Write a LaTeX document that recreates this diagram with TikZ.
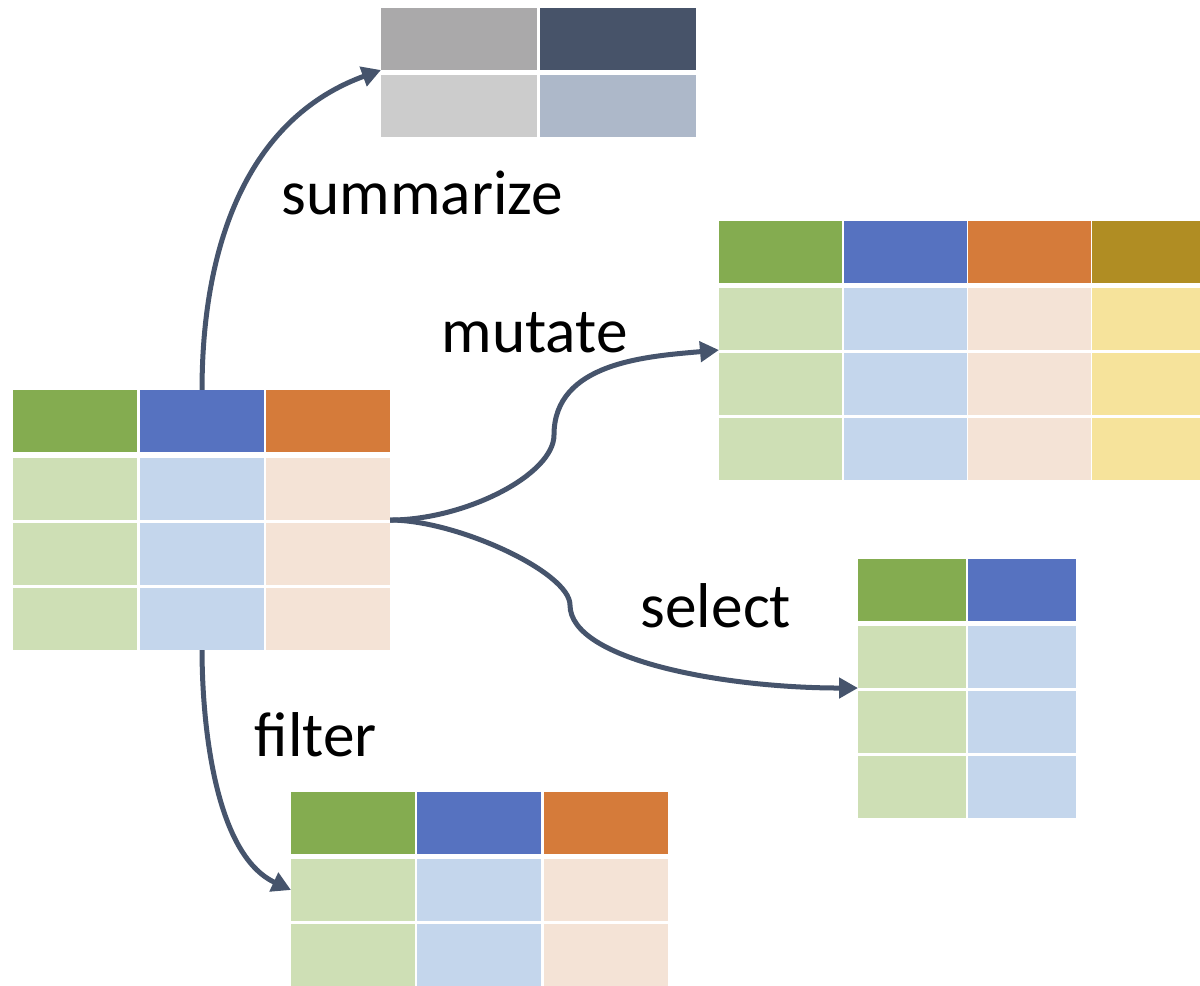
\documentclass[tikz,border=0pt]{standalone}
\usepackage{fontspec}
\setmainfont{Carlito}
\usetikzlibrary{arrows.meta}
\definecolor{hgreen}{RGB}{132,172,80}
\definecolor{hblue}{RGB}{86,114,192}
\definecolor{horange}{RGB}{213,123,58}
\definecolor{holive}{RGB}{176,141,35}
\definecolor{lgreen}{RGB}{206,223,181}
\definecolor{lblue}{RGB}{196,214,236}
\definecolor{lorange}{RGB}{244,227,214}
\definecolor{lyellow}{RGB}{246,227,155}
\definecolor{sgray}{RGB}{170,169,170}
\definecolor{sdark}{RGB}{71,83,105}
\definecolor{slgray}{RGB}{204,204,204}
\definecolor{slslate}{RGB}{173,184,201}
\definecolor{arrowgray}{RGB}{70,84,108}
\begin{document}
\begin{tikzpicture}[x=0.01cm, y=0.01cm,
        cell/.style={inner sep=0, outer sep=0, anchor=north west, minimum height=0.62cm},
        flow/.style={draw=arrowgray, line width=0.05cm, -{Triangle[length=0.19cm, width=0.2cm]}},
        opname/.style={inner sep=0, anchor=base west, font=\fontsize{18pt}{21pt}\selectfont}]
        \useasboundingbox (0,0) rectangle (1200,-986);
        \clip (0,0) rectangle (1200,-986);
        % input table
        \begin{scope}[cell/.append style={minimum width=1.24cm}]
        \node[cell, fill=hgreen] (in-h1) at (13,-390) {};
        \node[cell, fill=hblue] (in-h2) at (140,-390) {};
        \node[cell, fill=horange] (in-h3) at (266,-390) {};
        \node[cell, fill=lgreen] (in-r1c1) at (13,-458) {};
        \node[cell, fill=lblue] (in-r1c2) at (140,-458) {};
        \node[cell, fill=lorange] (in-r1c3) at (266,-458) {};
        \node[cell, fill=lgreen] (in-r2c1) at (13,-523) {};
        \node[cell, fill=lblue] (in-r2c2) at (140,-523) {};
        \node[cell, fill=lorange] (in-r2c3) at (266,-523) {};
        \node[cell, fill=lgreen] (in-r3c1) at (13,-588) {};
        \node[cell, fill=lblue] (in-r3c2) at (140,-588) {};
        \node[cell, fill=lorange] (in-r3c3) at (266,-588) {};
        \end{scope}
        % summarize
        \begin{scope}[cell/.append style={minimum width=1.56cm}]
        \node[cell, fill=sgray] (sum-h1) at (381,-8) {};
        \node[cell, fill=sdark] (sum-h2) at (540,-8) {};
        \node[cell, fill=slgray] (sum-r1c1) at (381,-75) {};
        \node[cell, fill=slslate] (sum-r1c2) at (540,-75) {};
        \end{scope}
        % mutate
        \begin{scope}[cell/.append style={minimum width=1.23cm}]
        \node[cell, fill=hgreen] (mut-h1) at (719,-221) {};
        \node[cell, fill=hblue] (mut-h2) at (844,-221) {};
        \node[cell, fill=horange] (mut-h3) at (968,-221) {};
        \node[cell, fill=holive] (mut-h4) at (1092,-221) {};
        \node[cell, fill=lgreen] (mut-r1c1) at (719,-288) {};
        \node[cell, fill=lblue] (mut-r1c2) at (844,-288) {};
        \node[cell, fill=lorange] (mut-r1c3) at (968,-288) {};
        \node[cell, fill=lyellow] (mut-r1c4) at (1092,-288) {};
        \node[cell, fill=lgreen] (mut-r2c1) at (719,-353) {};
        \node[cell, fill=lblue] (mut-r2c2) at (844,-353) {};
        \node[cell, fill=lorange] (mut-r2c3) at (968,-353) {};
        \node[cell, fill=lyellow] (mut-r2c4) at (1092,-353) {};
        \node[cell, fill=lgreen] (mut-r3c1) at (719,-418) {};
        \node[cell, fill=lblue] (mut-r3c2) at (844,-418) {};
        \node[cell, fill=lorange] (mut-r3c3) at (968,-418) {};
        \node[cell, fill=lyellow] (mut-r3c4) at (1092,-418) {};
        \end{scope}
        % select
        \begin{scope}[cell/.append style={minimum width=1.08cm}]
        \node[cell, fill=hgreen] (sel-h1) at (858,-559) {};
        \node[cell, fill=hblue] (sel-h2) at (968,-559) {};
        \node[cell, fill=lgreen] (sel-r1c1) at (858,-626) {};
        \node[cell, fill=lblue] (sel-r1c2) at (968,-626) {};
        \node[cell, fill=lgreen] (sel-r2c1) at (858,-691) {};
        \node[cell, fill=lblue] (sel-r2c2) at (968,-691) {};
        \node[cell, fill=lgreen] (sel-r3c1) at (858,-756) {};
        \node[cell, fill=lblue] (sel-r3c2) at (968,-756) {};
        \end{scope}
        % filter
        \begin{scope}[cell/.append style={minimum width=1.24cm}]
        \node[cell, fill=hgreen] (fil-h1) at (291,-792) {};
        \node[cell, fill=hblue] (fil-h2) at (417,-792) {};
        \node[cell, fill=horange] (fil-h3) at (544,-792) {};
        \node[cell, fill=lgreen] (fil-r1c1) at (291,-859) {};
        \node[cell, fill=lblue] (fil-r1c2) at (417,-859) {};
        \node[cell, fill=lorange] (fil-r1c3) at (544,-859) {};
        \node[cell, fill=lgreen] (fil-r2c1) at (291,-924) {};
        \node[cell, fill=lblue] (fil-r2c2) at (417,-924) {};
        \node[cell, fill=lorange] (fil-r2c3) at (544,-924) {};
        \end{scope}
        \node[opname] (lbl-sum) at (281,-215) {summarize};
        \node[opname] (lbl-mut) at (441,-353) {mutate};
        \node[opname] (lbl-sel) at (640,-628) {select};
        \node[opname] (lbl-fil) at (254,-757) {filter};
        \coordinate (mut-knee) at (554,-435);
        \coordinate (sel-knee) at (570,-605);
        \draw[flow] (in-h2.north) to[out=90, in=200] (sum-h1.south west);
        \draw[flow] (in-r1c3.south east) to[out=0, in=-90, out looseness=1.04, in looseness=0.55] (mut-knee)
                to[out=90, in=185] (mut-r1c1.south west);
        \draw[flow] (in-r1c3.south east) to[out=0, in=90, out looseness=0.86, in looseness=0.42] (sel-knee)
                to[out=-90, in=180, out looseness=0.47, in looseness=1.14] (sel-r1c1.south west);
        \draw[flow] (in-r3c2.south) to[out=-90, in=155, out looseness=0.7, in looseness=0.85] (fil-r1c1.west);
      \end{tikzpicture}
\end{document}
